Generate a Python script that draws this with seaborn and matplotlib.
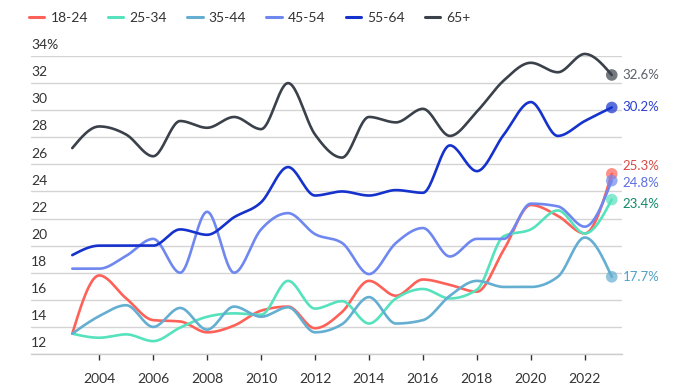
import numpy as np
import pandas as pd
import matplotlib
matplotlib.use("Agg")
import matplotlib.pyplot as plt
import matplotlib.transforms as mtransforms
from matplotlib.lines import Line2D
import seaborn as sns

years = list(range(2003, 2024))
groups = ["18-24", "25-34", "35-44", "45-54", "55-64", "65+"]

v_18_24 = [13.5, 17.8, 16.1, 14.5, 14.4, 13.6, 14.1, 15.2, 15.5, 13.9, 15.1,
           17.4, 16.3, 17.5, 17.1, 16.6, 19.7, 23.0, 22.2, 20.9, 25.3]
v_25_34 = [13.5, 13.2, 13.45, 12.95, 13.95, 14.75, 15.0, 14.9, 17.4, 15.35, 15.9,
           14.25, 16.1, 16.8, 16.1, 16.75, 20.7, 21.2, 22.6, 20.9, 23.4]
v_35_44 = [13.5, 14.8, 15.6, 14.0, 15.4, 13.8, 15.5, 14.75, 15.45, 13.6, 14.2,
           16.2, 14.25, 14.5, 16.3, 17.4, 16.95, 16.95, 17.7, 20.6, 17.7]
v_45_54 = [18.3, 18.3, 19.25, 20.5, 18.0, 22.5, 18.0, 21.2, 22.4, 20.85, 20.2,
           17.9, 20.2, 21.3, 19.2, 20.5, 20.5, 23.1, 22.9, 21.4, 24.8]
v_55_64 = [19.3, 20.0, 20.0, 20.0, 21.2, 20.8, 22.1, 23.2, 25.8, 23.7, 24.0,
           23.7, 24.1, 23.9, 27.4, 25.5, 28.2, 30.6, 28.1, 29.2, 30.2]
v_65 = [27.2, 28.8, 28.2, 26.6, 29.2, 28.7, 29.5, 28.6, 32.0, 28.2, 26.5,
        29.5, 29.1, 30.1, 28.1, 29.9, 32.2, 33.5, 32.8, 34.15, 32.6]

end_labels = ["25.3%", "23.4%", "17.7%", "24.8%", "30.2%", "32.6%"]
yticks = [12, 14, 16, 18, 20, 22, 24, 26, 28, 30, 32, 34]
ytick_labels = ["12", "14", "16", "18", "20", "22", "24", "26", "28", "30", "32", "34%"]
xticks = [2004, 2006, 2008, 2010, 2012, 2014, 2016, 2018, 2020, 2022]

series = [v_18_24, v_25_34, v_35_44, v_45_54, v_55_64, v_65]
line_colors = ["#fe6158", "#55e2bd", "#64aed2", "#6f88f0", "#1632cd", "#3a414a"]
label_colors = ["#d94a45", "#0e8a6a", "#4fa0c8", "#5b6fe0", "#2a3fd0", "#5a5f6a"]
label_dy = [6, -3, 0, -2, 0, 0]  # points offset to avoid overlap


def monotone_x(x, y, n=24):
    x = np.asarray(x, float)
    y = np.asarray(y, float)
    h = np.diff(x)
    s = np.diff(y) / h
    m = np.zeros_like(y)
    for i in range(1, len(x) - 1):
        s0, s1 = s[i - 1], s[i]
        p = (s0 * h[i] + s1 * h[i - 1]) / (h[i - 1] + h[i])
        m[i] = (np.sign(s0) + np.sign(s1)) * min(abs(s0), abs(s1), 0.5 * abs(p))
    m[0] = (3 * s[0] - m[1]) / 2
    m[-1] = (3 * s[-1] - m[-2]) / 2
    xs, ys = [], []
    for i in range(len(x) - 1):
        t = np.linspace(0, 1, n, endpoint=(i == len(x) - 2))
        h00 = 2 * t**3 - 3 * t**2 + 1
        h10 = t**3 - 2 * t**2 + t
        h01 = -2 * t**3 + 3 * t**2
        h11 = t**3 - t**2
        xs.append(x[i] + t * h[i])
        ys.append(h00 * y[i] + h10 * h[i] * m[i] + h01 * y[i + 1] + h11 * h[i] * m[i + 1])
    return np.concatenate(xs), np.concatenate(ys)


sns.set_theme(style="white")
plt.rcParams["font.family"] = ["Lato", "DejaVu Sans"]

fig = plt.figure(figsize=(6.76, 3.91), dpi=100)
ax = fig.add_axes([31 / 676, 37 / 391, (622 - 31) / 676, (354 - 56) / 391])

rows = []
for g, vals in zip(groups, series):
    xs, ys = monotone_x(years, vals)
    rows.append(pd.DataFrame({"year": xs, "value": ys, "group": g, "order": np.arange(len(xs))}))
dense = pd.concat(rows, ignore_index=True)

palette = dict(zip(groups, line_colors))
sns.lineplot(data=dense, x="year", y="value", hue="group", palette=palette,
             estimator=None, sort=False, units="group", linewidth=1.9, ax=ax,
             legend=False, zorder=3)
for ln in ax.lines:
    ln.set_clip_on(False)

# end points
ends = pd.DataFrame({"year": [years[-1]] * len(groups),
                     "value": [s[-1] for s in series], "group": groups})
sns.scatterplot(data=ends, x="year", y="value", hue="group", palette=palette,
                s=70, alpha=0.7, linewidth=0, ax=ax, legend=False, zorder=4,
                clip_on=False)

for g, vals, lab, c, dy in zip(groups, series, end_labels, label_colors, label_dy):
    tr = mtransforms.offset_copy(ax.transData, fig=fig, x=8, y=dy, units="points")
    ax.text(years[-1], vals[-1], lab, transform=tr, color=c, fontsize=9.5,
            va="center", ha="left", clip_on=False)

ax.set_xlim(2001.47, 2023.38)
ax.set_ylim(12, 34)
ax.set_yticks(yticks)
ax.set_yticklabels([])
ax.tick_params(axis="y", length=0)
ax.grid(axis="y", color="#d4d4d4", linewidth=1.0)
ax.grid(axis="x", visible=False)
ax.set_axisbelow(True)

ax.set_xticks(xticks)
ax.set_xticklabels([str(x) for x in xticks], fontsize=10, color="#333333")
ax.tick_params(axis="x", length=4, width=1, color="#333333", pad=10, bottom=True)
for sp in ["top", "right", "left"]:
    ax.spines[sp].set_visible(False)
ax.spines["bottom"].set_color("#cccccc")
ax.spines["bottom"].set_linewidth(1.0)
ax.set_xlabel("")
ax.set_ylabel("")

ytr = mtransforms.blended_transform_factory(ax.transAxes, ax.transData)
for v, lab in zip(yticks, ytick_labels):
    tr = mtransforms.offset_copy(ytr, fig=fig, x=0, y=3.5, units="points")
    ax.text(0, v, lab, transform=tr, fontsize=10, color="#333333",
            ha="left", va="bottom", clip_on=False)

handles = [Line2D([0], [0], color=c, linewidth=2.2) for c in line_colors]
fig.legend(handles, groups, loc="center left", bbox_to_anchor=(29 / 676, 1 - 18 / 391),
           ncol=6, frameon=False, fontsize=10, handlelength=1.1, handletextpad=0.45,
           columnspacing=1.45, borderpad=0, borderaxespad=0, labelcolor="#333333")

fig.savefig("out.png", dpi=100)
